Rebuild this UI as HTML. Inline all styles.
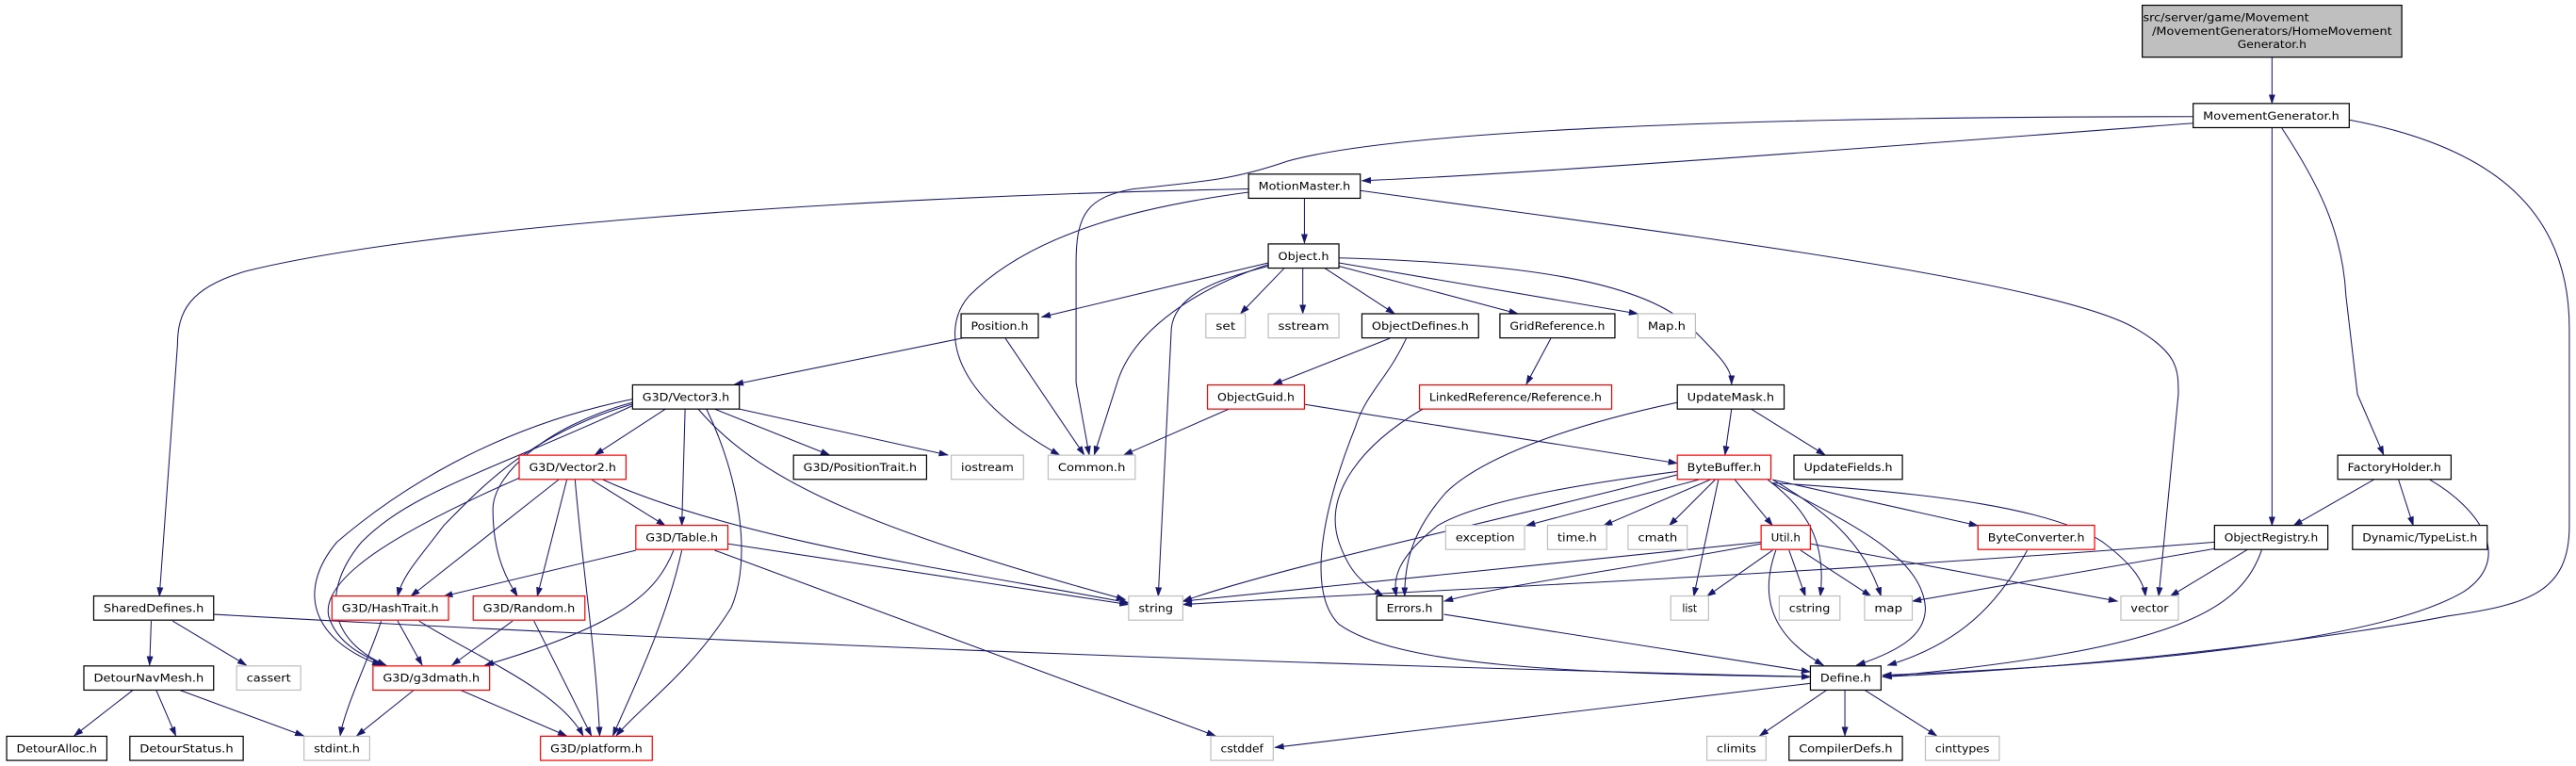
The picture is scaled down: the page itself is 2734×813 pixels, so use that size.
<!DOCTYPE html>
<html><head><meta charset="utf-8"><style>
html,body{margin:0;padding:0;background:#fff;}
svg{display:block;}
text{font-family:"DejaVu Sans","Liberation Sans",sans-serif;font-size:6.8px;fill:#000;text-anchor:middle;}
.e{fill:none;stroke:#191970;stroke-width:0.6;}
.b{fill:#fff;stroke:#000;stroke-width:0.7;}
.g{fill:#fff;stroke:#bfbfbf;stroke-width:0.7;}
.r{fill:#fff;stroke:#ff0000;stroke-width:0.7;}
</style></head><body>
<svg width="2734" height="813" viewBox="0 0 1568 466.3" xmlns="http://www.w3.org/2000/svg">
<defs><marker id="a" markerUnits="userSpaceOnUse" markerWidth="6" markerHeight="4" refX="5.5" refY="2" orient="auto"><path d="M0,0 L6,2 L0,4 Z" fill="#191970"/></marker></defs>
<g class="e" marker-end="url(#a)">
<path d="M1383,35 L1383,63"/>
<path d="M1335,75 C1200,85 950,105 829,110"/>
<path d="M1335,71 C1050,71 850,80 784,98 C755,108 740,110 690,115 C662,120 655,130 655,160 L655,233 L663,277"/>
<path d="M760,117 C700,125 630,140 590,180 C572,200 578,240 645,277"/>
<path d="M760,115 C500,120 250,140 150,165 C115,175 108,190 108,210 L97,363"/>
<path d="M828,116 C1000,140 1250,170 1300,200 C1326,215 1326,225 1326,240 L1314,363"/>
<path d="M1383,78 L1383,320"/>
<path d="M1389,78 C1410,110 1426,140 1428,180 L1435,240 L1451,277"/>
<path d="M1430,73 C1520,90 1564,130 1564,200 L1564,320 C1564,360 1540,368 1490,375 C1440,385 1300,405 1146,412"/>
<path d="M794,121 L794,148"/>
<path d="M772,160 L634,193"/>
<path d="M782,163 L755,191"/>
<path d="M793,163 L793,191"/>
<path d="M806,163 L849,191"/>
<path d="M815,162 L924,191"/>
<path d="M815,160 L997,191"/>
<path d="M815,157 C920,160 1000,170 1030,200 C1050,220 1054,225 1054,234"/>
<path d="M772,162 C740,170 715,180 713,200 L705,363"/>
<path d="M772,161 C730,175 690,200 680,233 L666,277"/>
<path d="M590,205 L447,234"/>
<path d="M612,206 L660,277"/>
<path d="M846,206 L775,234"/>
<path d="M856,206 C845,230 831,240 825,260 C805,310 795,360 815,380 C850,405 950,410 1102,412"/>
<path d="M944,206 L929,234"/>
<path d="M748,249 L684,277"/>
<path d="M793,246 L1021,282"/>
<path d="M866,249 C830,270 805,300 815,330 C822,350 830,355 842,363"/>
<path d="M1054,249 L1050,277"/>
<path d="M1066,249 L1111,277"/>
<path d="M1021,245 C950,260 900,280 880,300 C858,325 855,345 855,363"/>
<path d="M405,249 L362,277"/>
<path d="M417,249 L415,320"/>
<path d="M435,249 L505,277"/>
<path d="M450,249 L577,277"/>
<path d="M425,249 C460,290 520,320 685,365"/>
<path d="M430,249 C450,290 458,340 445,370 C420,410 390,430 375,448"/>
<path d="M385,246 C320,265 290,300 270,320 C255,340 245,350 242,363"/>
<path d="M385,245 C330,260 300,290 300,310 C300,340 310,355 315,363"/>
<path d="M385,243 C300,260 240,300 205,330 C180,360 190,390 232,405"/>
<path d="M385,247 C290,290 250,300 220,330 C195,360 200,390 235,405"/>
<path d="M360,292 L405,320"/>
<path d="M340,292 L250,363"/>
<path d="M345,292 L327,363"/>
<path d="M350,292 C355,350 363,400 365,448"/>
<path d="M367,292 C450,330 600,350 687,367"/>
<path d="M316,291 C250,320 195,350 200,375 C205,392 222,400 235,405"/>
<path d="M387,335 L270,363"/>
<path d="M410,335 C400,360 380,380 295,405"/>
<path d="M415,335 C405,380 385,420 373,448"/>
<path d="M443,331 L687,368"/>
<path d="M435,335 L740,448"/>
<path d="M242,378 L257,405"/>
<path d="M232,378 C225,400 210,430 207,448"/>
<path d="M255,378 C290,400 340,420 355,448"/>
<path d="M312,378 L275,405"/>
<path d="M325,378 L360,448"/>
<path d="M252,420 L217,448"/>
<path d="M280,420 L345,448"/>
<path d="M92,378 L91,405"/>
<path d="M105,378 L150,405"/>
<path d="M130,374 Q600,400 1102,412"/>
<path d="M81,420 L45,448"/>
<path d="M95,420 L107,448"/>
<path d="M109,420 L185,448"/>
<path d="M1034,292 L929,320"/>
<path d="M1041,292 L976,320"/>
<path d="M1044,292 L1016,320"/>
<path d="M1056,292 L1079,320"/>
<path d="M1079,292 L1204,320"/>
<path d="M1046,292 L1031,363"/>
<path d="M1076,292 C1100,310 1112,330 1108,363"/>
<path d="M1079,292 C1110,310 1135,330 1145,363"/>
<path d="M1079,294 C1180,300 1250,310 1280,330 C1300,345 1305,355 1306,363"/>
<path d="M1079,294 C1130,320 1170,340 1172,370 C1172,385 1160,395 1130,405"/>
<path d="M1021,287 C960,295 900,305 875,320 C850,340 848,352 850,363"/>
<path d="M1021,289 C900,320 780,345 720,366"/>
<path d="M1072,330 L720,366"/>
<path d="M1072,331 C1000,345 920,355 879,366"/>
<path d="M1079,335 L1039,363"/>
<path d="M1089,335 L1099,363"/>
<path d="M1096,335 L1139,363"/>
<path d="M1102,331 L1289,366"/>
<path d="M1081,335 C1072,360 1075,385 1110,405"/>
<path d="M1234,335 C1220,360 1200,390 1149,405"/>
<path d="M879,374 L1102,409"/>
<path d="M1445,292 L1396,320"/>
<path d="M1460,292 L1469,320"/>
<path d="M1479,292 C1510,310 1530,340 1500,360 C1450,390 1300,405 1146,411"/>
<path d="M1348,330 C1100,350 850,360 720,368"/>
<path d="M1348,334 L1164,366"/>
<path d="M1369,334 L1321,363"/>
<path d="M1377,334 C1365,370 1330,395 1146,412"/>
<path d="M1112,420 L1071,448"/>
<path d="M1123,420 L1123,448"/>
<path d="M1135,420 L1179,448"/>
<path d="M1102,416 L776,455"/>
</g>
<rect x="1304" y="3.2" width="158" height="31.6" fill="#bfbfbf" stroke="#000" stroke-width="0.7"/>
<text x="1355" y="13" textLength="101" lengthAdjust="spacingAndGlyphs">src/server/game/Movement</text>
<text x="1383" y="21.2" textLength="146" lengthAdjust="spacingAndGlyphs">/MovementGenerators/HomeMovement</text>
<text x="1383" y="29.3" textLength="42" lengthAdjust="spacingAndGlyphs">Generator.h</text>
<g id="nodes"></g>
<rect class="b" x="1335" y="63" width="95" height="14.7"/><text x="1382.5" y="72.7" textLength="83" lengthAdjust="spacingAndGlyphs">MovementGenerator.h</text>
<rect class="b" x="760" y="106" width="68" height="14.7"/><text x="794" y="115.7" textLength="56" lengthAdjust="spacingAndGlyphs">MotionMaster.h</text>
<rect class="b" x="772" y="148.5" width="43" height="14.7"/><text x="793.5" y="158.2" textLength="31" lengthAdjust="spacingAndGlyphs">Object.h</text>
<rect class="b" x="585" y="191" width="47" height="14.7"/><text x="608.5" y="200.7" textLength="35" lengthAdjust="spacingAndGlyphs">Position.h</text>
<rect class="g" x="734" y="191" width="24" height="14.7"/><text x="746" y="200.7" textLength="12" lengthAdjust="spacingAndGlyphs">set</text>
<rect class="g" x="772" y="191" width="43" height="14.7"/><text x="793.5" y="200.7" textLength="31" lengthAdjust="spacingAndGlyphs">sstream</text>
<rect class="b" x="829" y="191" width="71" height="14.7"/><text x="864.5" y="200.7" textLength="59" lengthAdjust="spacingAndGlyphs">ObjectDefines.h</text>
<rect class="b" x="913" y="191" width="70" height="14.7"/><text x="948" y="200.7" textLength="58" lengthAdjust="spacingAndGlyphs">GridReference.h</text>
<rect class="g" x="997" y="191" width="35" height="14.7"/><text x="1014.5" y="200.7" textLength="23" lengthAdjust="spacingAndGlyphs">Map.h</text>
<rect class="b" x="385" y="234.3" width="65" height="14.7"/><text x="417.5" y="244" textLength="53" lengthAdjust="spacingAndGlyphs">G3D/Vector3.h</text>
<rect class="r" x="735" y="234.3" width="59" height="14.7"/><text x="764.5" y="244" textLength="47" lengthAdjust="spacingAndGlyphs">ObjectGuid.h</text>
<rect class="r" x="864" y="234.3" width="117" height="14.7"/><text x="922.5" y="244" textLength="105" lengthAdjust="spacingAndGlyphs">LinkedReference/Reference.h</text>
<rect class="b" x="1021" y="234.3" width="65" height="14.7"/><text x="1053.5" y="244" textLength="53" lengthAdjust="spacingAndGlyphs">UpdateMask.h</text>
<rect class="r" x="316" y="277.1" width="65" height="14.7"/><text x="348.5" y="286.8" textLength="53" lengthAdjust="spacingAndGlyphs">G3D/Vector2.h</text>
<rect class="b" x="483" y="277.1" width="81" height="14.7"/><text x="523.5" y="286.8" textLength="69" lengthAdjust="spacingAndGlyphs">G3D/PositionTrait.h</text>
<rect class="g" x="579" y="277.1" width="44" height="14.7"/><text x="601" y="286.8" textLength="32" lengthAdjust="spacingAndGlyphs">iostream</text>
<rect class="g" x="638" y="277.1" width="53" height="14.7"/><text x="664.5" y="286.8" textLength="41" lengthAdjust="spacingAndGlyphs">Common.h</text>
<rect class="r" x="1021" y="277.1" width="57" height="14.7"/><text x="1049.5" y="286.8" textLength="45" lengthAdjust="spacingAndGlyphs">ByteBuffer.h</text>
<rect class="b" x="1092" y="277.1" width="66" height="14.7"/><text x="1125" y="286.8" textLength="54" lengthAdjust="spacingAndGlyphs">UpdateFields.h</text>
<rect class="b" x="1423" y="277.1" width="69" height="14.7"/><text x="1457.5" y="286.8" textLength="57" lengthAdjust="spacingAndGlyphs">FactoryHolder.h</text>
<rect class="r" x="387" y="319.8" width="56" height="14.7"/><text x="415" y="329.5" textLength="44" lengthAdjust="spacingAndGlyphs">G3D/Table.h</text>
<rect class="g" x="880" y="319.8" width="48" height="14.7"/><text x="904" y="329.5" textLength="36" lengthAdjust="spacingAndGlyphs">exception</text>
<rect class="g" x="942" y="319.8" width="36" height="14.7"/><text x="960" y="329.5" textLength="24" lengthAdjust="spacingAndGlyphs">time.h</text>
<rect class="g" x="991" y="319.8" width="36" height="14.7"/><text x="1009" y="329.5" textLength="24" lengthAdjust="spacingAndGlyphs">cmath</text>
<rect class="r" x="1072" y="319.8" width="30" height="14.7"/><text x="1087" y="329.5" textLength="18" lengthAdjust="spacingAndGlyphs">Util.h</text>
<rect class="r" x="1204" y="319.8" width="71" height="14.7"/><text x="1239.5" y="329.5" textLength="59" lengthAdjust="spacingAndGlyphs">ByteConverter.h</text>
<rect class="b" x="1348" y="319.8" width="69" height="14.7"/><text x="1382.5" y="329.5" textLength="57" lengthAdjust="spacingAndGlyphs">ObjectRegistry.h</text>
<rect class="b" x="1432" y="319.8" width="82" height="14.7"/><text x="1473" y="329.5" textLength="70" lengthAdjust="spacingAndGlyphs">Dynamic/TypeList.h</text>
<rect class="b" x="57" y="362.8" width="73" height="14.7"/><text x="93.5" y="372.5" textLength="61" lengthAdjust="spacingAndGlyphs">SharedDefines.h</text>
<rect class="r" x="202" y="362.8" width="71" height="14.7"/><text x="237.5" y="372.5" textLength="59" lengthAdjust="spacingAndGlyphs">G3D/HashTrait.h</text>
<rect class="r" x="288" y="362.8" width="68" height="14.7"/><text x="322" y="372.5" textLength="56" lengthAdjust="spacingAndGlyphs">G3D/Random.h</text>
<rect class="g" x="687" y="362.8" width="33" height="14.7"/><text x="703.5" y="372.5" textLength="21" lengthAdjust="spacingAndGlyphs">string</text>
<rect class="b" x="838" y="362.8" width="40" height="14.7"/><text x="858" y="372.5" textLength="28" lengthAdjust="spacingAndGlyphs">Errors.h</text>
<rect class="g" x="1017" y="362.8" width="23" height="14.7"/><text x="1028.5" y="372.5" textLength="9" lengthAdjust="spacingAndGlyphs">list</text>
<rect class="g" x="1083" y="362.8" width="37" height="14.7"/><text x="1101.5" y="372.5" textLength="25" lengthAdjust="spacingAndGlyphs">cstring</text>
<rect class="g" x="1135" y="362.8" width="29" height="14.7"/><text x="1149.5" y="372.5" textLength="17" lengthAdjust="spacingAndGlyphs">map</text>
<rect class="g" x="1291" y="362.8" width="35" height="14.7"/><text x="1308.5" y="372.5" textLength="23" lengthAdjust="spacingAndGlyphs">vector</text>
<rect class="b" x="51" y="405.4" width="79" height="14.7"/><text x="90.5" y="415.1" textLength="67" lengthAdjust="spacingAndGlyphs">DetourNavMesh.h</text>
<rect class="g" x="144" y="405.4" width="39" height="14.7"/><text x="163.5" y="415.1" textLength="27" lengthAdjust="spacingAndGlyphs">cassert</text>
<rect class="r" x="227" y="405.4" width="71" height="14.7"/><text x="262.5" y="415.1" textLength="59" lengthAdjust="spacingAndGlyphs">G3D/g3dmath.h</text>
<rect class="b" x="1102" y="405.4" width="43" height="14.7"/><text x="1123.5" y="415.1" textLength="31" lengthAdjust="spacingAndGlyphs">Define.h</text>
<rect class="b" x="4" y="448.2" width="61" height="14.7"/><text x="34.5" y="457.9" textLength="49" lengthAdjust="spacingAndGlyphs">DetourAlloc.h</text>
<rect class="b" x="79" y="448.2" width="69" height="14.7"/><text x="113.5" y="457.9" textLength="57" lengthAdjust="spacingAndGlyphs">DetourStatus.h</text>
<rect class="g" x="185" y="448.2" width="40" height="14.7"/><text x="205" y="457.9" textLength="28" lengthAdjust="spacingAndGlyphs">stdint.h</text>
<rect class="r" x="329" y="448.2" width="68" height="14.7"/><text x="363" y="457.9" textLength="56" lengthAdjust="spacingAndGlyphs">G3D/platform.h</text>
<rect class="g" x="737" y="448.2" width="38" height="14.7"/><text x="756" y="457.9" textLength="26" lengthAdjust="spacingAndGlyphs">cstddef</text>
<rect class="g" x="1039" y="448.2" width="36" height="14.7"/><text x="1057" y="457.9" textLength="24" lengthAdjust="spacingAndGlyphs">climits</text>
<rect class="b" x="1089" y="448.2" width="69" height="14.7"/><text x="1123.5" y="457.9" textLength="57" lengthAdjust="spacingAndGlyphs">CompilerDefs.h</text>
<rect class="g" x="1172" y="448.2" width="45" height="14.7"/><text x="1194.5" y="457.9" textLength="33" lengthAdjust="spacingAndGlyphs">cinttypes</text>
</svg>
</body></html>
